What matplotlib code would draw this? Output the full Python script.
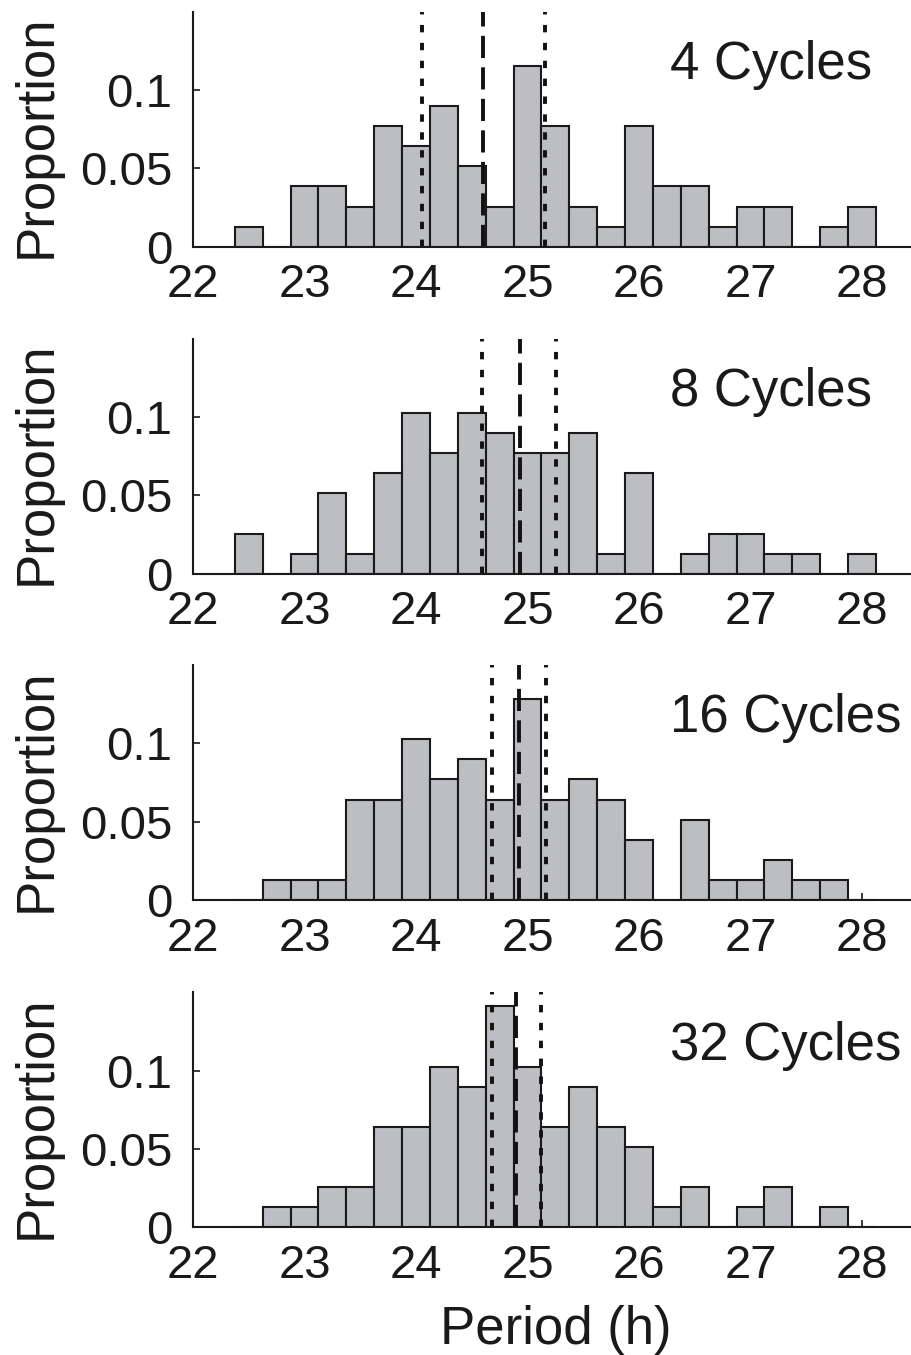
import numpy as np
import matplotlib
matplotlib.use("Agg")
import matplotlib.pyplot as plt

plt.rcParams['font.family'] = ['Liberation Sans', 'DejaVu Sans']

# Bin centres (h) and counts per bin (N = 78 cells)
bin_centers = [22.5, 22.75, 23.0, 23.25, 23.5, 23.75, 24.0, 24.25, 24.5, 24.75,
               25.0, 25.25, 25.5, 25.75, 26.0, 26.25, 26.5, 26.75, 27.0, 27.25,
               27.5, 27.75, 28.0]
n_total = 78

counts_4 = [1, 0, 3, 3, 2, 6, 5, 7, 4, 2, 9, 6, 2, 1, 6, 3, 3, 1, 2, 2, 0, 1, 2]
counts_8 = [2, 0, 1, 4, 1, 5, 8, 6, 8, 7, 6, 6, 7, 1, 5, 0, 1, 2, 2, 1, 1, 0, 1]
counts_16 = [0, 1, 1, 1, 5, 5, 8, 6, 7, 5, 10, 5, 6, 5, 3, 0, 4, 1, 1, 2, 1, 1, 0]
counts_32 = [0, 1, 1, 2, 2, 5, 5, 8, 7, 11, 8, 5, 7, 5, 4, 1, 2, 0, 1, 2, 0, 1, 0]

# Vertical reference lines: (lower dotted, mean dashed, upper dotted)
lines_4 = [24.05, 24.60, 25.16]
lines_8 = [24.59, 24.93, 25.26]
lines_16 = [24.68, 24.92, 25.17]
lines_32 = [24.68, 24.90, 25.12]

panel_labels = ['4 Cycles', '8 Cycles', '16 Cycles', '32 Cycles']
x_ticks = [22, 23, 24, 25, 26, 27, 28]
y_ticks = [0, 0.05, 0.1]
y_tick_labels = ['0', '0.05', '0.1']

bin_width = 0.25
bar_color = '#bcbec1'

all_counts = [counts_4, counts_8, counts_16, counts_32]
all_lines = [lines_4, lines_8, lines_16, lines_32]

W, H = 912, 1355
fig = plt.figure(figsize=(W / 100, H / 100), dpi=100)

left = 193 / W
width = 6.5 * 111.5 / W
height = 235 / H
baselines = [246.7, 573.7, 900.0, 1227.3]

dotted = (0, (1.9, 2.7))
dashed = (0, (5.7, 2.4))

for i, (counts, vl, lab, yb) in enumerate(zip(all_counts, all_lines, panel_labels, baselines)):
    ax = fig.add_axes([left, 1 - yb / H, width, height])
    props = np.array(counts) / n_total
    ax.bar(bin_centers, props, width=bin_width, color=bar_color,
           edgecolor='#1a1a1a', linewidth=1.5, zorder=2)
    ax.axvline(vl[0], color='#111111', lw=2.8, linestyle=dotted, zorder=3)
    ax.axvline(vl[1], color='#111111', lw=2.8, linestyle=dashed, zorder=3)
    ax.axvline(vl[2], color='#111111', lw=2.8, linestyle=dotted, zorder=3)
    ax.set_xlim(22, 28.5)
    ax.set_ylim(0, 0.15)
    ax.set_xticks(x_ticks)
    ax.set_xticklabels([str(t) for t in x_ticks])
    ax.set_yticks(y_ticks)
    ax.set_yticklabels(y_tick_labels)
    ax.set_axisbelow(True)
    for s in ['top', 'right']:
        ax.spines[s].set_visible(False)
    for s in ['left', 'bottom']:
        ax.spines[s].set_linewidth(1.5)
        ax.spines[s].set_color('#1a1a1a')
        ax.spines[s].set_zorder(4)
    ax.tick_params(axis='x', direction='in', length=5, width=1.2, pad=12,
                   labelsize=34, colors='#1a1a1a')
    ax.tick_params(axis='y', direction='in', length=5, width=1.2, pad=15,
                   labelsize=34, colors='#1a1a1a')
    ax.set_ylabel('Proportion', fontsize=38, color='#1a1a1a')
    ax.yaxis.set_label_coords(-0.181, 0.468)
    ax.text(26.28, 0.107, lab, ha='left', va='baseline', fontsize=38,
            color='#1a1a1a')
    ax.patch.set_alpha(0)
    if i == 3:
        ax.set_xlabel('Period (h)', fontsize=38, color='#1a1a1a', labelpad=12)

fig.savefig('out.png', dpi=100)
